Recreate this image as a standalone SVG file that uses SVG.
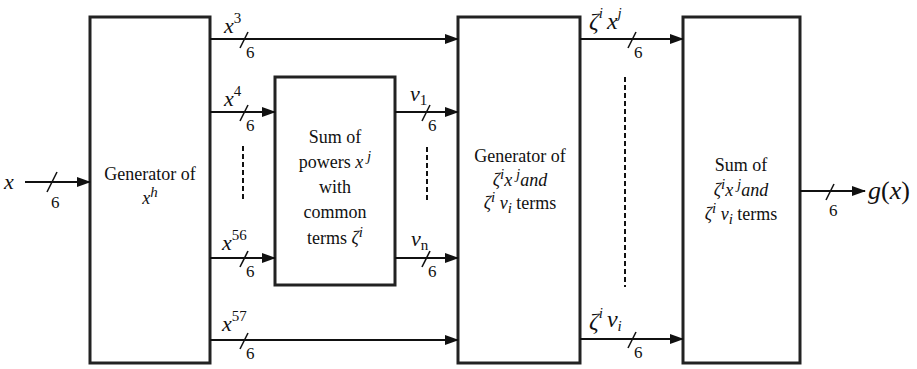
<svg xmlns="http://www.w3.org/2000/svg" width="917" height="369" viewBox="0 0 917 369" font-family="Liberation Serif">
<style>
.box{fill:#fff;stroke:#222;stroke-width:3}
.ln{stroke:#111;stroke-width:2;fill:none}
.sl{stroke:#111;stroke-width:1.6}
.dash{stroke:#111;stroke-width:2;stroke-dasharray:5,3}
text, tspan{font-family:'Liberation Serif', serif !important}
.t{font-size:18px;text-anchor:middle;fill:#111}
.n{font-size:17px;fill:#111}
.m{font-size:22px;font-style:italic;fill:#111}
.s{font-size:15px}
</style>
<defs>
<marker id="ah" markerWidth="14" markerHeight="10" refX="13" refY="5" orient="auto" markerUnits="userSpaceOnUse">
<path d="M0,0 L14,5 L0,10 z" fill="#111"/>
</marker>
</defs>
<g id="gen-xh">
<rect class="box" x="90" y="17" width="120" height="346"/>
<text class="t" style="font-family:'Liberation Serif' !important" x="150" y="180">Generator of</text>
<text class="t" style="font-family:'Liberation Serif' !important" x="150" y="204"><tspan font-style="italic">x</tspan><tspan class="s" font-style="italic" dy="-7">h</tspan></text>
</g>
<g id="sum-powers">
<rect class="box" x="275" y="77" width="120" height="208"/>
<text class="t" style="font-family:'Liberation Serif' !important" x="335" y="143">Sum of</text>
<text class="t" style="font-family:'Liberation Serif' !important" x="335" y="168">powers <tspan font-style="italic">x</tspan><tspan class="s" font-style="italic" dy="-7"> j</tspan></text>
<text class="t" style="font-family:'Liberation Serif' !important" x="335" y="193">with</text>
<text class="t" style="font-family:'Liberation Serif' !important" x="335" y="218">common</text>
<text class="t" style="font-family:'Liberation Serif' !important" x="335" y="244">terms <tspan font-style="italic">ζ</tspan><tspan class="s" font-style="italic" dy="-7">i</tspan></text>
</g>
<g id="gen-terms">
<rect class="box" x="458" y="17" width="122" height="346"/>
<text class="t" style="font-family:'Liberation Serif' !important" x="520" y="162">Generator of</text>
<text class="t" style="font-family:'Liberation Serif' !important" x="520" y="186" font-style="italic">ζ<tspan class="s" dy="-7">i</tspan><tspan dy="7">x</tspan><tspan class="s" dy="-7"> j</tspan><tspan dy="7">and</tspan></text>
<text class="t" style="font-family:'Liberation Serif' !important" x="520" y="209"><tspan font-style="italic">ζ</tspan><tspan class="s" font-style="italic" dy="-7">i</tspan><tspan font-style="italic" dy="7"> v</tspan><tspan class="s" font-style="italic" dy="4">i</tspan><tspan dy="-4"> terms</tspan></text>
</g>
<g id="sum-terms">
<rect class="box" x="683" y="17" width="117" height="346"/>
<text class="t" style="font-family:'Liberation Serif' !important" x="741" y="171">Sum of</text>
<text class="t" style="font-family:'Liberation Serif' !important" x="741" y="196" font-style="italic">ζ<tspan class="s" dy="-7">i</tspan><tspan dy="7">x</tspan><tspan class="s" dy="-7"> j</tspan><tspan dy="7">and</tspan></text>
<text class="t" style="font-family:'Liberation Serif' !important" x="741" y="220"><tspan font-style="italic">ζ</tspan><tspan class="s" font-style="italic" dy="-7">i</tspan><tspan font-style="italic" dy="7"> v</tspan><tspan class="s" font-style="italic" dy="4">i</tspan><tspan dy="-4"> terms</tspan></text>
</g>
<g id="connectors">
<line class="ln" x1="25" y1="182" x2="90" y2="182" marker-end="url(#ah)"/>
<line class="sl" x1="47" y1="192" x2="57" y2="172"/>
<text class="m" style="font-family:'Liberation Serif' !important" x="4" y="189" font-size="26">x</text>
<text class="n" style="font-family:'Liberation Serif' !important" x="51" y="208">6</text>
<line class="ln" x1="210" y1="39" x2="458" y2="39" marker-end="url(#ah)"/>
<line class="sl" x1="240" y1="48" x2="248" y2="32"/>
<text class="m" style="font-family:'Liberation Serif' !important" x="224" y="33">x<tspan class="s" font-style="normal" dy="-10">3</tspan></text>
<text class="n" style="font-family:'Liberation Serif' !important" x="246" y="58">6</text>
<line class="ln" x1="210" y1="112" x2="275" y2="112" marker-end="url(#ah)"/>
<line class="sl" x1="240" y1="121" x2="248" y2="105"/>
<text class="m" style="font-family:'Liberation Serif' !important" x="224" y="106">x<tspan class="s" font-style="normal" dy="-10">4</tspan></text>
<text class="n" style="font-family:'Liberation Serif' !important" x="246" y="131">6</text>
<line class="dash" x1="243" y1="146" x2="243" y2="202"/>
<line class="ln" x1="210" y1="258" x2="275" y2="258" marker-end="url(#ah)"/>
<line class="sl" x1="240" y1="267" x2="248" y2="251"/>
<text class="m" style="font-family:'Liberation Serif' !important" x="222" y="250">x<tspan class="s" font-style="normal" dy="-10">56</tspan></text>
<text class="n" style="font-family:'Liberation Serif' !important" x="246" y="277">6</text>
<line class="ln" x1="210" y1="340" x2="458" y2="340" marker-end="url(#ah)"/>
<line class="sl" x1="240" y1="349" x2="248" y2="333"/>
<text class="m" style="font-family:'Liberation Serif' !important" x="222" y="331">x<tspan class="s" font-style="normal" dy="-10">57</tspan></text>
<text class="n" style="font-family:'Liberation Serif' !important" x="246" y="359">6</text>
<line class="ln" x1="395" y1="112" x2="458" y2="112" marker-end="url(#ah)"/>
<line class="sl" x1="422" y1="121" x2="430" y2="105"/>
<text class="m" style="font-family:'Liberation Serif' !important" x="410" y="101">v<tspan class="s" font-style="normal" dy="4">1</tspan></text>
<text class="n" style="font-family:'Liberation Serif' !important" x="428" y="131">6</text>
<line class="dash" x1="427" y1="147" x2="427" y2="202"/>
<line class="ln" x1="395" y1="258" x2="458" y2="258" marker-end="url(#ah)"/>
<line class="sl" x1="422" y1="267" x2="430" y2="251"/>
<text class="m" style="font-family:'Liberation Serif' !important" x="411" y="246">v<tspan class="s" font-style="normal" dy="4">n</tspan></text>
<text class="n" style="font-family:'Liberation Serif' !important" x="428" y="277">6</text>
<line class="ln" x1="580" y1="39" x2="683" y2="39" marker-end="url(#ah)"/>
<line class="sl" x1="628" y1="48" x2="636" y2="32"/>
<text style="font-family:'Liberation Serif' !important" x="589" y="29" font-size="24" font-style="italic" fill="#111">ζ<tspan class="s" dy="-11">i</tspan><tspan dx="4" dy="11">x</tspan><tspan class="s" dy="-11">j</tspan></text>
<text class="n" style="font-family:'Liberation Serif' !important" x="634" y="58">6</text>
<line class="dash" x1="625" y1="77" x2="625" y2="287"/>
<line class="ln" x1="580" y1="339" x2="683" y2="339" marker-end="url(#ah)"/>
<line class="sl" x1="628" y1="348" x2="636" y2="332"/>
<text style="font-family:'Liberation Serif' !important" x="589" y="329" font-size="24" font-style="italic" fill="#111">ζ<tspan class="s" dy="-11">i</tspan><tspan dx="4" dy="9">v</tspan><tspan class="s" dy="4">i</tspan></text>
<text class="n" style="font-family:'Liberation Serif' !important" x="634" y="358">6</text>
<line class="ln" x1="800" y1="191" x2="865" y2="191" marker-end="url(#ah)"/>
<line class="sl" x1="826" y1="200" x2="834" y2="184"/>
<text class="n" style="font-family:'Liberation Serif' !important" x="829" y="216">6</text>
<text style="font-family:'Liberation Serif' !important" x="868" y="199" font-size="26" fill="#111"><tspan font-style="italic">g</tspan>(<tspan font-style="italic">x</tspan>)</text>
</g>
</svg>
